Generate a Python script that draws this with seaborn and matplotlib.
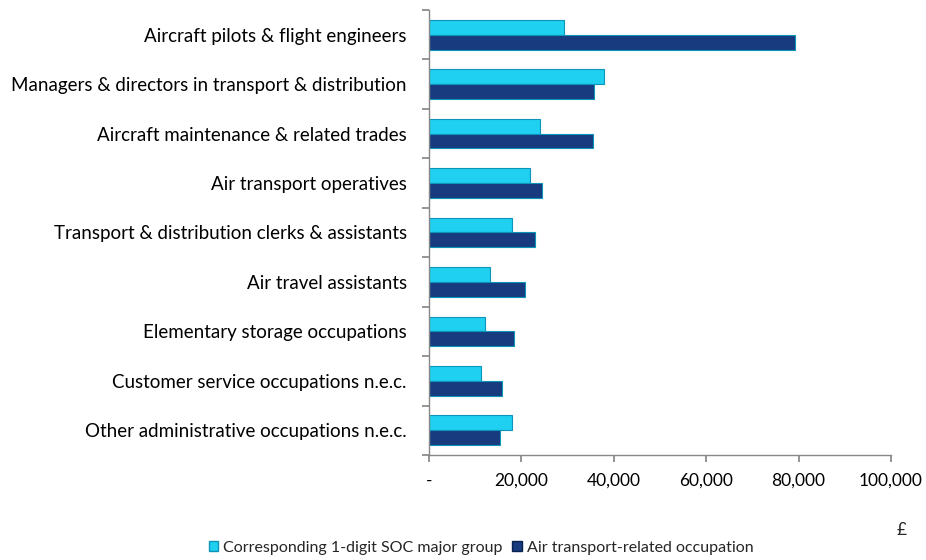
import pandas as pd
import matplotlib.pyplot as plt
import matplotlib.ticker as mticker
from matplotlib.patches import Patch
import seaborn as sns

sns.set_theme(style="white")
plt.rcParams['font.family'] = ['Lato', 'DejaVu Sans']

# occupations, top to bottom
occupations = [
    'Aircraft pilots & flight engineers',
    'Managers & directors in transport & distribution',
    'Aircraft maintenance & related trades',
    'Air transport operatives',
    'Transport & distribution clerks & assistants',
    'Air travel assistants',
    'Elementary storage occupations',
    'Customer service occupations n.e.c.',
    'Other administrative occupations n.e.c.',
]
series = ['Corresponding 1-digit SOC major group', 'Air transport-related occupation']
soc_group = [29200, 37900, 24100, 21800, 17900, 13300, 12200, 11300, 17900]
air_transport = [79300, 35700, 35500, 24400, 22900, 20700, 18300, 15700, 15400]
x_ticks = [0, 20000, 40000, 60000, 80000, 100000]

df = pd.DataFrame({
    'occupation': occupations * 2,
    'series': [series[0]] * len(occupations) + [series[1]] * len(occupations),
    'salary': soc_group + air_transport,
})

colors = ['#1FD0F0', '#173B7E']
edges = ['#0C95B8', '#0A2150']

fig = plt.figure(figsize=(9.26, 5.6), dpi=100)
ax = fig.add_axes([429 / 926, 105 / 560, 462 / 926, 445 / 560])

sns.barplot(data=df, y='occupation', x='salary', hue='series', order=occupations,
            hue_order=series, palette=colors, saturation=1, orient='h', width=0.6,
            edgecolor=[edges[0]] * 9 + [edges[1]] * 9, linewidth=0.8,
            legend=False, ax=ax)

ax.set_xlim(0, 100000)
ax.set_xticks(x_ticks)
ax.xaxis.set_major_formatter(mticker.FuncFormatter(lambda v, p: '-' if v == 0 else f'{v:,.0f}'))
ax.set_ylim(len(occupations) - 0.5, -0.5)
ax.set_yticks([i - 0.5 for i in range(len(occupations) + 1)], minor=False)
ax.set_yticklabels([])
ax.set_yticks(range(len(occupations)), minor=True)
ax.set_yticklabels(occupations, minor=True)
ax.tick_params(axis='y', which='minor', length=0, pad=16, labelsize=13.5, labelcolor='#000000')
ax.tick_params(axis='y', which='major', length=5, color='#888888', direction='out', left=True)
ax.tick_params(axis='x', length=5, color='#888888', direction='out', bottom=True, pad=8,
               labelsize=12.5, labelcolor='#000000')
ax.set_xlabel('')
ax.set_ylabel('')
for side in ['top', 'right']:
    ax.spines[side].set_visible(False)
for side in ['left', 'bottom']:
    ax.spines[side].set_color('#888888')
    ax.spines[side].set_linewidth(1)

fig.text(902 / 926, 1 - 530 / 560, '£', ha='center', va='center', fontsize=12.5)

handles = [Patch(facecolor=colors[0], edgecolor=edges[0]),
           Patch(facecolor=colors[1], edgecolor=edges[1])]
fig.legend(handles, series, loc='center', bbox_to_anchor=(481 / 926, 1 - 548 / 560), ncol=2,
           frameon=False, fontsize=11.5, handlelength=0.6, handleheight=0.6,
           handletextpad=0.3, columnspacing=0.6, borderpad=0)

fig.savefig('out.png', dpi=100)
